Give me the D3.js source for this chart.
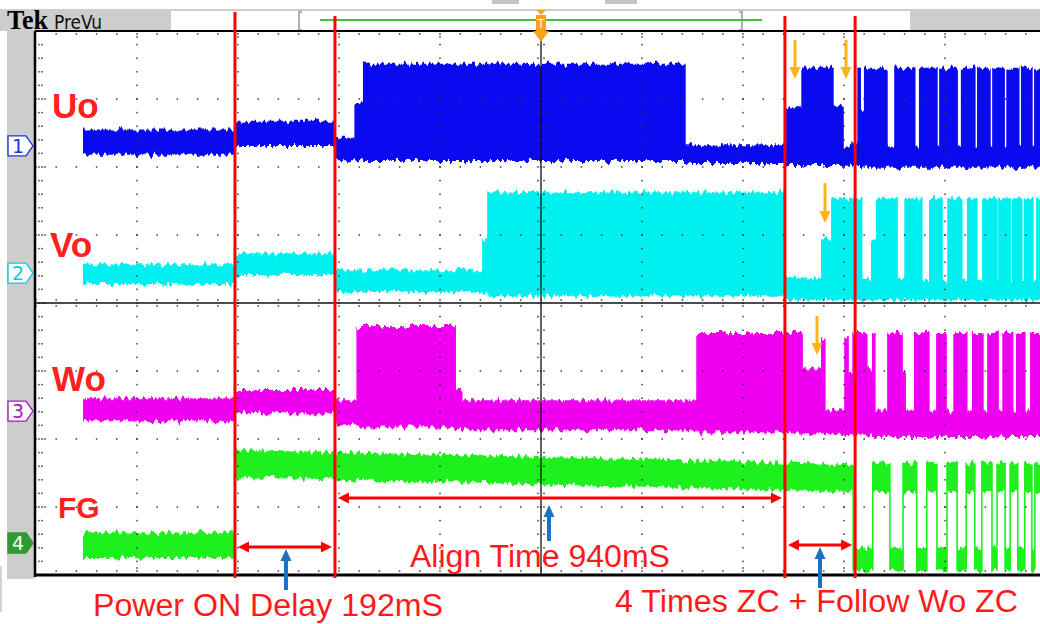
<!DOCTYPE html>
<html>
<head>
<meta charset="utf-8">
<script src="https://cdn.jsdelivr.net/npm/d3@7/dist/d3.min.js"></script>
<style>
  html, body { margin: 0; padding: 0; background: #fff; }
  svg { display: block; }
</style>
</head>
<body>
<script>
// ---------------------------------------------------------------
// Motor start-up capture: Uo / Vo / Wo phase outputs and FG signal
// Time in ms (200 ms/div, 10 div on screen), levels in divisions
// relative to each channel's ground marker.
// Each step: [startTime, highLevel, lowLevel, (highAtEnd, lowAtEnd)]
// ---------------------------------------------------------------
const channelNames = ["Uo", "Vo", "Wo", "FG"];
const channelNumbers = ["1", "2", "3", "4"];

const uoSteps = [
  [93, 0.24, -0.13], [394, 0.37, 0.00], [592, 0.12, -0.21], [632, 0.63, -0.21],
  [649, 1.21, -0.22], [1285, 0.01, -0.25], [1487, 0.57, -0.28], [1517, 1.15, -0.28],
  [1578, 0.59, -0.28], [1598, -0.01, -0.29], [1616, 0.04, -0.29], [1628, 1.15, -0.31],
  [1632, 0.53, -0.31], [1641, 1.15, -0.32], [1685, -0.01, -0.32], [1701, 1.15, -0.32],
  [1740, -0.01, -0.32], [1750, 1.15, -0.32], [1784, -0.01, -0.32], [1790, 1.15, -0.32],
  [1824, -0.01, -0.32], [1833, 1.15, -0.32], [1859, -0.01, -0.32], [1865, 1.15, -0.32],
  [1889, -0.01, -0.32], [1895, 1.15, -0.32], [1917, -0.01, -0.32], [1923, 1.15, -0.32],
  [1946, -0.01, -0.32], [1952, 1.15, -0.32], [1972, -0.01, -0.32], [1978, 1.15, -0.32]
];

const voSteps = [
  [93, 0.13, -0.16], [394, 0.29, -0.03], [592, 0.04, -0.28], [885, 0.49, -0.31],
  [895, 1.19, -0.34], [1483, -0.06, -0.40], [1556, 0.51, -0.40], [1576, 1.10, -0.40],
  [1635, -0.10, -0.40], [1655, 0.49, -0.40], [1665, 1.10, -0.40], [1705, -0.10, -0.40],
  [1721, 1.10, -0.40], [1754, -0.10, -0.40], [1770, 1.10, -0.40], [1794, -0.10, -0.40],
  [1806, 1.10, -0.40], [1833, -0.10, -0.40], [1845, 1.10, -0.40], [1863, -0.10, -0.40],
  [1875, 1.10, -0.40], [1903, -0.10, -0.40], [1907, 1.10, -0.40], [1929, -0.10, -0.40],
  [1934, 1.10, -0.40], [1952, -0.10, -0.40], [1958, 1.10, -0.40], [1974, -0.10, -0.40],
  [1982, 1.10, -0.40]
];

const woSteps = [
  [93, 0.19, -0.15], [394, 0.31, -0.03], [592, 0.16, -0.21], [636, 1.25, -0.24],
  [830, 0.31, -0.25], [843, 0.16, -0.28], [1309, 1.15, -0.31], [1517, 0.63, -0.34],
  [1556, 1.07, -0.34], [1562, 0.01, -0.35], [1602, 1.07, -0.35], [1608, 0.56, -0.35],
  [1618, 1.15, -0.36], [1645, 0.63, -0.36], [1657, 1.15, -0.38], [1661, 0.01, -0.38],
  [1687, 1.15, -0.38], [1715, 0.57, -0.38], [1721, 0.01, -0.38], [1740, 1.15, -0.38],
  [1768, 0.01, -0.38], [1784, 1.15, -0.38], [1802, 0.01, -0.38], [1818, 1.15, -0.38],
  [1843, 0.01, -0.38], [1855, 1.15, -0.38], [1875, 0.01, -0.38], [1885, 1.15, -0.38],
  [1905, 0.01, -0.38], [1915, 1.15, -0.38], [1934, 0.01, -0.38], [1942, 1.15, -0.38],
  [1958, 0.01, -0.38], [1970, 1.15, -0.38]
];

const fgSteps = [
  [93, 0.16, -0.22], [394, 1.37, 0.97, 1.16, 0.75], [1618, -0.07, -0.40],
  [1657, 1.18, 0.75], [1691, -0.07, -0.40], [1717, 1.18, 0.75], [1744, -0.07, -0.40],
  [1764, 1.18, 0.75], [1784, -0.07, -0.40], [1804, 1.18, 0.75], [1824, -0.07, -0.40],
  [1842, 1.18, 0.75], [1859, -0.07, -0.40], [1873, 1.18, 0.75], [1893, -0.07, -0.40],
  [1903, 1.18, 0.75], [1919, -0.07, -0.40], [1929, 1.18, 0.75], [1944, -0.07, -0.40],
  [1958, 1.18, 0.75], [1972, -0.07, -0.40], [1978, 1.18, 0.75]
];

// Cursor times (ms) and the measurement text between them
const cursorTimes = [394, 592, 1483, 1622];
const annotationLabels = ["Power ON Delay 192mS", "Align Time 940mS", "4 Times ZC + Follow Wo ZC"];
const triggerTime = 1000;

// ---------------------------------------------------------------
const W = 1040, H = 624;
const plot = { left: 36, right: 1046, top: 31, bottom: 575 };
const endTime = 2000;

const x = d3.scaleLinear().domain([0, endTime]).range([plot.left, plot.right]);
const yDiv = d3.scaleLinear().domain([-4, 4]).range([plot.bottom, plot.top]);

const channels = [
  { steps: uoSteps, offset: 2.31, color: "#0a0af0", mark: "#2233dd", fillMark: false },
  { steps: voSteps, offset: 0.44, color: "#00f0f0", mark: "#10c8d8", fillMark: false },
  { steps: woSteps, offset: -1.59, color: "#f000f0", mark: "#a020b8", fillMark: false },
  { steps: fgSteps, offset: -3.53, color: "#1ef01e", mark: "#2f9a2f", fillMark: true }
];

const svg = d3.select("body").append("svg").attr("width", W).attr("height", H);
const defs = svg.append("defs");

// Rough edge texture for the acquired waveform envelopes
const rough = defs.append("filter").attr("id", "rough")
  .attr("filterUnits", "userSpaceOnUse")
  .attr("x", 0).attr("y", 0).attr("width", W).attr("height", H)
  .attr("color-interpolation-filters", "sRGB");
rough.append("feTurbulence").attr("type", "fractalNoise")
  .attr("baseFrequency", "0.28 0.02").attr("numOctaves", 2).attr("seed", 7).attr("result", "n");
rough.append("feColorMatrix").attr("in", "n").attr("type", "matrix")
  .attr("values", "0 0 0 0 0.5  0 1.5 0 0 -0.25  0 0 0 0 0  0 0 0 0 1").attr("result", "m");
rough.append("feDisplacementMap").attr("in", "SourceGraphic").attr("in2", "m")
  .attr("scale", 7).attr("xChannelSelector", "R").attr("yChannelSelector", "G");

defs.append("clipPath").attr("id", "plotClip").append("rect")
  .attr("x", plot.left).attr("y", plot.top).attr("width", W - plot.left).attr("height", plot.bottom - plot.top);

// ---------- screen frame ----------
svg.append("rect").attr("x", 0).attr("y", 9).attr("width", W).attr("height", 22).attr("fill", "#cdcdcd");
svg.append("rect").attr("x", 7).attr("y", 9).attr("width", 28).attr("height", 570).attr("fill", "#cdcdcd");
svg.append("rect").attr("x", 171).attr("y", 11).attr("width", 739).attr("height", 20).attr("fill", "#fff");
svg.append("rect").attr("x", 492).attr("y", 0).attr("width", 27).attr("height", 4).attr("fill", "#c4c4c4");
svg.append("rect").attr("x", 605).attr("y", 0).attr("width", 32).attr("height", 4).attr("fill", "#c4c4c4");
svg.append("rect").attr("x", 0).attr("y", 566).attr("width", 2).attr("height", 46).attr("fill", "#d4d4d4");

// record-window brackets and acquisition bar
const bracket = (bx, dir) => svg.append("path")
  .attr("d", `M${bx + 3 * dir},12 H${bx} V30 H${bx + 3 * dir}`)
  .attr("fill", "none").attr("stroke", "#b0b0b0").attr("stroke-width", 2);
bracket(299, 1);
bracket(742, -1);
svg.append("line").attr("x1", 320).attr("x2", 762).attr("y1", 20).attr("y2", 20)
  .attr("stroke", "#3cc43c").attr("stroke-width", 2);

svg.append("text").attr("x", 7).attr("y", 29).text("Tek")
  .attr("font-family", "Liberation Serif, serif").attr("font-weight", "bold")
  .attr("font-size", 27).attr("textLength", 41).attr("lengthAdjust", "spacingAndGlyphs").attr("fill", "#000");
svg.append("text").attr("x", 54).attr("y", 29).text("PreVu")
  .attr("font-family", "DejaVu Sans Condensed, DejaVu Sans, sans-serif")
  .attr("font-size", 20).attr("textLength", 48).attr("lengthAdjust", "spacingAndGlyphs").attr("fill", "#111");

// ---------- waveforms ----------
const traces = svg.append("g").attr("clip-path", "url(#plotClip)");
channels.forEach(ch => {
  const g = traces.append("g").attr("filter", "url(#rough)");
  const yv = v => yDiv(ch.offset + v);
  ch.steps.forEach((s, i) => {
    const t0 = s[0];
    const t1 = i < ch.steps.length - 1 ? ch.steps[i + 1][0] : endTime;
    const hi0 = s[1], lo0 = s[2];
    const hi1 = s.length > 3 ? s[3] : hi0, lo1 = s.length > 3 ? s[4] : lo0;
    g.append("path")
      .attr("d", `M${x(t0)},${yv(hi0)} L${x(t1)},${yv(hi1)} L${x(t1)},${yv(lo1)} L${x(t0)},${yv(lo0)} Z`)
      .attr("fill", ch.color);
    if (i < ch.steps.length - 1) {
      const n = ch.steps[i + 1];
      const top = Math.max(hi1, n[1]), bot = Math.min(lo1, n[2]);
      g.append("line").attr("x1", x(t1)).attr("x2", x(t1))
        .attr("y1", yv(top)).attr("y2", yv(bot))
        .attr("stroke", ch.color).attr("stroke-width", 1.6);
    }
  });
});

// ---------- graticule ----------
const grid = svg.append("g");
const dot = (cx, cy, s = 1.5) => grid.append("rect")
  .attr("x", cx - s / 2).attr("y", cy - s / 2).attr("width", s).attr("height", s).attr("fill", "#3a3a3a");

const majorX = d3.range(0, endTime + 1, 200);
const minorX = d3.range(0, endTime + 1, 40);
const majorY = d3.range(-4, 4.01, 1);
const minorY = d3.range(-4, 4.01, 0.2);

majorX.forEach((t, j) => {
  if (j === 0 || j === 5 || x(t) > W) return;
  minorY.forEach(v => dot(x(t), yDiv(v)));
});
majorY.forEach((v, k) => {
  if (k === 0 || k === 4 || k === 8) return;
  minorX.forEach(t => { if (x(t) < W) dot(x(t), yDiv(v)); });
});
// border tick marks
minorX.forEach((t, i) => {
  const big = i % 5 === 0;
  if (x(t) > W || i === 0) return;
  dot(x(t), plot.top + 3); dot(x(t), plot.bottom - 4);
  if (big) { dot(x(t), plot.top + 6); dot(x(t), plot.bottom - 7); }
});
minorY.forEach((v, i) => {
  dot(plot.left + 3, yDiv(v)); dot(plot.left + 6, yDiv(v));
  if (i % 5 === 0) dot(plot.left + 9, yDiv(v));
});
// centre cross with ticks
grid.append("line").attr("x1", plot.left).attr("x2", W).attr("y1", yDiv(0)).attr("y2", yDiv(0))
  .attr("stroke", "#111").attr("stroke-width", 1.3);
grid.append("line").attr("x1", x(triggerTime)).attr("x2", x(triggerTime)).attr("y1", plot.top).attr("y2", plot.bottom)
  .attr("stroke", "#111").attr("stroke-width", 1.3);
minorX.forEach(t => { if (x(t) < W) { dot(x(t), yDiv(0) - 3); dot(x(t), yDiv(0) + 3); } });
minorY.forEach(v => { dot(x(triggerTime) - 3, yDiv(v)); dot(x(triggerTime) + 3, yDiv(v)); });

// frame lines
grid.append("line").attr("x1", plot.left - 1).attr("x2", W).attr("y1", plot.top).attr("y2", plot.top)
  .attr("stroke", "#000").attr("stroke-width", 2);
grid.append("line").attr("x1", plot.left - 1).attr("x2", plot.left - 1).attr("y1", plot.top).attr("y2", plot.bottom + 2)
  .attr("stroke", "#000").attr("stroke-width", 2.5);
grid.append("line").attr("x1", plot.left - 2).attr("x2", W).attr("y1", plot.bottom).attr("y2", plot.bottom)
  .attr("stroke", "#000").attr("stroke-width", 3);

// trigger marker
const tx = x(triggerTime);
const trig = svg.append("g").attr("fill", "#f7a21b");
trig.append("path").attr("d", `M${tx - 5},10 L${tx + 5},10 L${tx},15 Z`);
trig.append("rect").attr("x", tx - 5).attr("y", 15).attr("width", 10).attr("height", 16);
trig.append("path").attr("d", `M${tx - 8},31 L${tx + 8},31 L${tx},42 Z`);
svg.append("text").attr("x", tx).attr("y", 28).attr("text-anchor", "middle").text("T")
  .attr("font-family", "DejaVu Sans, sans-serif").attr("font-size", 12).attr("fill", "#fff3d0");

// channel ground markers
channels.forEach((ch, i) => {
  const cy = yDiv(ch.offset);
  svg.append("path")
    .attr("d", `M8,${cy - 10} L26,${cy - 10} L33,${cy} L26,${cy + 10} L8,${cy + 10} Z`)
    .attr("fill", ch.fillMark ? ch.mark : "#fff")
    .attr("stroke", ch.mark).attr("stroke-width", 1.4);
  svg.append("text").attr("x", 18).attr("y", cy + 7).attr("text-anchor", "middle")
    .text(channelNumbers[i])
    .attr("font-family", "DejaVu Sans, sans-serif").attr("font-size", 19)
    .attr("fill", ch.fillMark ? "#fff" : ch.mark);
});

// channel names
const nameStyle = [
  { x: 52, y: 118, size: 35 }, { x: 50, y: 257, size: 35 },
  { x: 52, y: 391, size: 35 }, { x: 58, y: 518, size: 30 }
];
channelNames.forEach((name, i) => {
  svg.append("text").attr("x", nameStyle[i].x).attr("y", nameStyle[i].y).text(name)
    .attr("font-family", "Liberation Sans, Arial, sans-serif").attr("font-weight", "bold")
    .attr("font-size", nameStyle[i].size).attr("fill", "#ff2020");
});

// ---------- cursors and annotations ----------
const ann = svg.append("g");
const red = "#ff0000";
cursorTimes.forEach((t, i) => {
  ann.append("line").attr("x1", x(t)).attr("x2", x(t)).attr("y1", i === 0 ? 12 : 16).attr("y2", 578)
    .attr("stroke", red).attr("stroke-width", 3);
});

function arrowHead(xt, yt, dx, dy, len, half, color) {
  // tip at (xt, yt) pointing along (dx, dy)
  const bx = xt - dx * len, by = yt - dy * len;
  const px = -dy * half, py = dx * half;
  ann.append("path").attr("d", `M${xt},${yt} L${bx + px},${by + py} L${bx - px},${by - py} Z`).attr("fill", color);
}
function doubleArrow(t0, t1, yy) {
  const x0 = x(t0) + 3, x1 = x(t1) - 3;
  ann.append("line").attr("x1", x0 + 8).attr("x2", x1 - 8).attr("y1", yy).attr("y2", yy)
    .attr("stroke", red).attr("stroke-width", 3);
  arrowHead(x0, yy, -1, 0, 11, 5.5, red);
  arrowHead(x1, yy, 1, 0, 11, 5.5, red);
}
function pointer(xx, yTail, yTip, color, w, len, half) {
  const dir = yTip > yTail ? 1 : -1;
  ann.append("line").attr("x1", xx).attr("x2", xx).attr("y1", yTail).attr("y2", yTip - dir * (len - 1))
    .attr("stroke", color).attr("stroke-width", w);
  arrowHead(xx, yTip, 0, dir, len, half, color);
}

doubleArrow(cursorTimes[0], cursorTimes[1], 547);
doubleArrow(cursorTimes[1], cursorTimes[2], 498);
doubleArrow(cursorTimes[2], cursorTimes[3], 545);

const blue = "#1c72c0";
pointer((x(cursorTimes[0]) + x(cursorTimes[1])) / 2 + 1, 590, 549, blue, 4, 12, 5.5);
pointer(549, 541, 505, blue, 4, 12, 5.5);
pointer((x(cursorTimes[2]) + x(cursorTimes[3])) / 2, 588, 547, blue, 4, 12, 5.5);

const orange = "#ffb414";
pointer(795, 40, 79, orange, 3, 12, 5.5);
pointer(846, 40, 79, orange, 3, 12, 5.5);
pointer(825, 183, 223, orange, 3, 12, 5.5);
pointer(817, 316, 355, orange, 3, 12, 5.5);

const labelStyle = [
  { x: 93, y: 616, w: 350 }, { x: 410, y: 567, w: 260 }, { x: 615, y: 612, w: 403 }
];
annotationLabels.forEach((txt, i) => {
  ann.append("text").attr("x", labelStyle[i].x).attr("y", labelStyle[i].y).text(txt)
    .attr("font-family", "Liberation Sans, Arial, sans-serif").attr("font-size", 31)
    .attr("textLength", labelStyle[i].w).attr("lengthAdjust", "spacingAndGlyphs")
    .attr("fill", "#ff1a1a");
});
</script>
</body>
</html>
